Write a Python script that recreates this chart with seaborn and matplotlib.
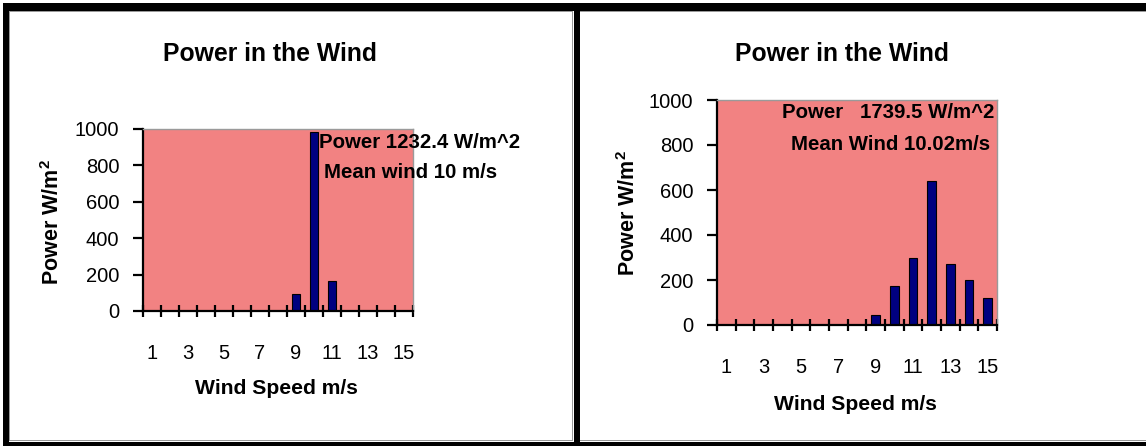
import numpy as np
import pandas as pd
import matplotlib
matplotlib.use("Agg")
import matplotlib.pyplot as plt
import seaborn as sns
from matplotlib.patches import Rectangle

# ---- data ----
wind_speeds = list(range(1, 16))
power_left = [0, 0, 0, 0, 0, 0, 0, 0, 92, 981, 165, 0, 0, 0, 0]
power_right = [0, 0, 0, 0, 0, 0, 0, 2, 46, 175, 297, 640, 269, 202, 119]
tick_labels = ["1", "3", "5", "7", "9", "11", "13", "15"]
y_ticks = [0, 200, 400, 600, 800, 1000]
title_text = "Power in the Wind"
xlabel_text = "Wind Speed m/s"
ylabel_text = "Power W/m$^{2}$"
ann_left = ["Power 1232.4 W/m^2", "Mean wind 10 m/s"]
ann_right = ["Power   1739.5 W/m^2", "Mean Wind 10.02m/s"]

sns.set_theme(style="white")
plt.rcParams['font.family'] = ['Liberation Sans', 'DejaVu Sans']
plt.rcParams['text.color'] = 'black'
plt.rcParams['xtick.color'] = 'black'
plt.rcParams['ytick.color'] = 'black'
plt.rcParams['axes.labelcolor'] = 'black'
plt.rcParams['mathtext.default'] = 'regular'

W, H = 1146, 446
fig = plt.figure(figsize=(W / 100, H / 100), dpi=100)
fig.patch.set_facecolor("white")

def fx(x):
    return x / W

def fy(y):
    return 1 - y / H

PLOT_BG = "#f28282"
BAR = "#000080"

def make_panel(rect, values, title_xy, ylabel_xy, xlabel_xy):
    l, t, r, b = rect
    ax = fig.add_axes([fx(l), fy(b), fx(r) - fx(l), (b - t) / H])
    df = pd.DataFrame({"speed": [str(s) for s in wind_speeds], "power": values})
    sns.barplot(data=df, x="speed", y="power", color=BAR, width=0.45,
                edgecolor="black", linewidth=0.8, saturation=1, ax=ax)
    ax.set_facecolor(PLOT_BG)
    ax.set_xlim(-0.5, len(wind_speeds) - 0.5)
    ax.set_ylim(0, 1000)
    ax.set_yticks(y_ticks)
    ax.set_yticklabels([str(v) for v in y_ticks], fontsize=14.5)
    ax.set_xticks(list(range(0, 15, 2)))
    ax.set_xticklabels(tick_labels, fontsize=14.5)
    ax.set_xticks(np.arange(-0.5, 15.0, 1.0), minor=True)
    ax.tick_params(axis="x", which="both", bottom=True, top=False)
    ax.tick_params(axis="y", which="both", left=True, right=False)
    ax.tick_params(axis="x", which="major", length=0, pad=24, labelcolor="black")
    ax.tick_params(axis="x", which="minor", length=9, width=1.6, direction="inout", color="black")
    ax.tick_params(axis="y", which="major", length=7, width=1.6, direction="out",
                   color="black", pad=10, labelcolor="black")
    ax.set_xlabel("")
    ax.set_ylabel("")
    for s in ["left", "bottom"]:
        ax.spines[s].set_color("black")
        ax.spines[s].set_linewidth(1.6)
        ax.spines[s].set_visible(True)
    for s in ["top", "right"]:
        ax.spines[s].set_color("#9a9a9a")
        ax.spines[s].set_linewidth(1.0)
        ax.spines[s].set_visible(True)
    fig.text(fx(title_xy[0]), fy(title_xy[1]), title_text, ha="center", va="center",
             fontsize=17.8, fontweight="bold", color="black")
    fig.text(fx(ylabel_xy[0]), fy(ylabel_xy[1]), ylabel_text, ha="center", va="center",
             rotation=90, fontsize=15.5, fontweight="bold", color="black")
    fig.text(fx(xlabel_xy[0]), fy(xlabel_xy[1]), xlabel_text, ha="center", va="center",
             fontsize=15.2, fontweight="bold", color="black")
    return ax

axL = make_panel((143, 129, 413, 311), power_left, (270, 54), (53, 222), (276, 389))
axR = make_panel((717, 100, 997, 325), power_right, (842, 54), (629, 213), (855, 405))

# annotations
fig.text(fx(319), fy(143), ann_left[0], ha="left", va="center", fontsize=14.7, fontweight="bold", color="black")
fig.text(fx(324), fy(172), ann_left[1], ha="left", va="center", fontsize=14.7, fontweight="bold", color="black")
fig.text(fx(994), fy(113), ann_right[0], ha="right", va="center", fontsize=14.7, fontweight="bold", color="black")
fig.text(fx(990), fy(144), ann_right[1], ha="right", va="center", fontsize=14.7, fontweight="bold", color="black")

# frame bands
def band(x0, y0, x1, y1, color="black"):
    fig.patches.append(Rectangle((fx(x0), fy(y1)), (x1 - x0) / W, (y1 - y0) / H,
                                 transform=fig.transFigure, facecolor=color,
                                 edgecolor="none", zorder=10))

band(3, 3, W, 11)          # top
band(3, 3, 9, H)           # left
band(574, 3, 580, H)       # divider
band(3, 442, W, H)         # bottom
band(9, 11, 573, 12, "#999999")
band(9, 11, 10, 441, "#999999")
band(572, 11, 573, 441, "#999999")
band(580, 11, W, 12, "#999999")
band(9, 440, 573, 441, "#999999")
band(580, 440, W, 441, "#999999")

fig.savefig("out.png", dpi=100, facecolor="white")
